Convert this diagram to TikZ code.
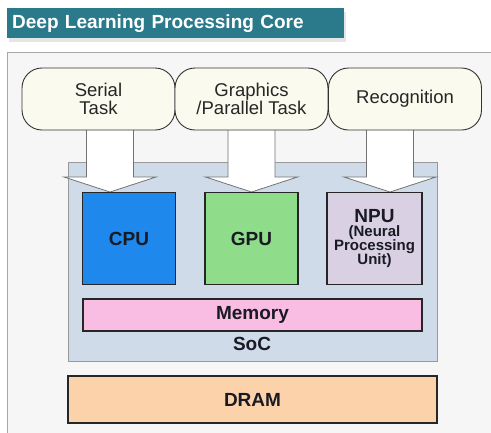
\documentclass[tikz,border=0pt]{standalone}
\usepackage{fontspec}
\setmainfont{Liberation Sans}
\usetikzlibrary{calc,shadows}

\definecolor{titleteal}{HTML}{2B7A8B}
\definecolor{framegray}{HTML}{F6F6F6}
\definecolor{taskcream}{HTML}{FBFAEE}
\definecolor{socblue}{HTML}{CFDBE9}
\definecolor{cpublue}{HTML}{1F88EC}
\definecolor{gpugreen}{HTML}{8FDC8A}
\definecolor{npulilac}{HTML}{D9D0E3}
\definecolor{mempink}{HTML}{F9BDE3}
\definecolor{drampeach}{HTML}{FBD2AA}
\definecolor{inkdark}{HTML}{1A1A24}

\newcommand\npusmall{\fontsize{15}{14.2}\selectfont}
\newcommand\tightlines{\lineskiplimit=-100pt\relax\lineskip=0pt\relax}

\tikzset{
  task/.style={draw=black!80, fill=taskcream, rounded corners=20pt, line width=0.9pt,
    minimum width=153pt, minimum height=62pt, align=center, text=black!85,
    font=\fontsize{18.5}{17.5}\selectfont},
  core/.style={draw=black!85, line width=1.6pt, minimum width=93pt, minimum height=92pt,
    align=center, text=inkdark, font=\fontsize{19}{19}\selectfont\bfseries},
  bar/.style={draw=black!85, line width=1.2pt, align=center, text=inkdark,
    font=\fontsize{19}{19}\selectfont\bfseries},
  fatarrow/.style={draw=black!55, fill=white, line width=0.8pt, line join=miter},
}

\begin{document}
\begin{tikzpicture}[x=1pt,y=-1pt]
  \useasboundingbox (0,0) rectangle (491,432);
  \clip (0,0) rectangle (491,432);
  \fill[white] (0,0) rectangle (491,432);

  \newcommand\taskarrow[2]{%
    \draw[fatarrow] let \p1=(#1), \p2=(#2) in
      (\x1-23.5pt,\y1) -- (\x1-23.5pt,\y2+15pt) -- (\x1-46pt,\y2+15pt) -- (\x1,\y2)
      -- (\x1+46pt,\y2+15pt) -- (\x1+23.5pt,\y2+15pt) -- (\x1+23.5pt,\y1) -- cycle;}

  % outer frame
  \draw[black!35, fill=framegray, line width=0.8pt] (7,52) rectangle (500,440);

  % title
  \node[fill=titleteal, drop shadow={opacity=0.2, shadow xshift=2pt, shadow yshift=-4pt},
    minimum width=337pt, minimum height=30pt, anchor=north west, text=white,
    font=\fontsize{19}{19}\selectfont\bfseries, text width=327pt, align=left]
    (title) at (7,8) {Deep Learning Processing Core};

  % SoC
  \node[draw=black!40, fill=socblue, line width=0.9pt, minimum width=369pt,
    minimum height=199pt] (soc) at (252.5,261.5) {};

  % arrows, behind the task boxes
  \coordinate (serialout) at (110,125);
  \coordinate (graphicsout) at (251.5,125);
  \coordinate (recogout) at (390,125);
  \coordinate (cpuin) at (113,192);
  \coordinate (gpuin) at (251.5,192);
  \coordinate (npuin) at (390,192);
  \taskarrow{serialout}{cpuin}
  \taskarrow{graphicsout}{gpuin}
  \taskarrow{recogout}{npuin}

  % tasks
  \node[task] (serial) at (98.5,99) {Serial\\Task};
  \node[task] (graphics) at (251.5,99) {Graphics\\/Parallel Task};
  \node[task] (recog) at (405,99) {Recognition};

  % cores
  \node[core, fill=cpublue] (cpu) at (129,238.5) {CPU};
  \node[core, fill=gpugreen] (gpu) at (251.5,238.5) {GPU};
  \node[core, fill=npulilac, text width=88pt,
    font=\fontsize{19}{14.2}\selectfont\bfseries\tightlines]
    (npu) at (374.5,238.5)
    {NPU\\\npusmall (Neural\\\npusmall Processing\\\npusmall Unit)};

  \node[bar, fill=mempink, minimum width=339pt, minimum height=32pt] (mem) at (252.5,315) {Memory};
  \node[text=inkdark, font=\fontsize{19}{19}\selectfont\bfseries] (soclabel) at (252,344) {SoC};
  \node[bar, fill=drampeach, minimum width=369pt, minimum height=47pt] (dram) at (252.5,399.5) {DRAM};
\end{tikzpicture}
\end{document}
